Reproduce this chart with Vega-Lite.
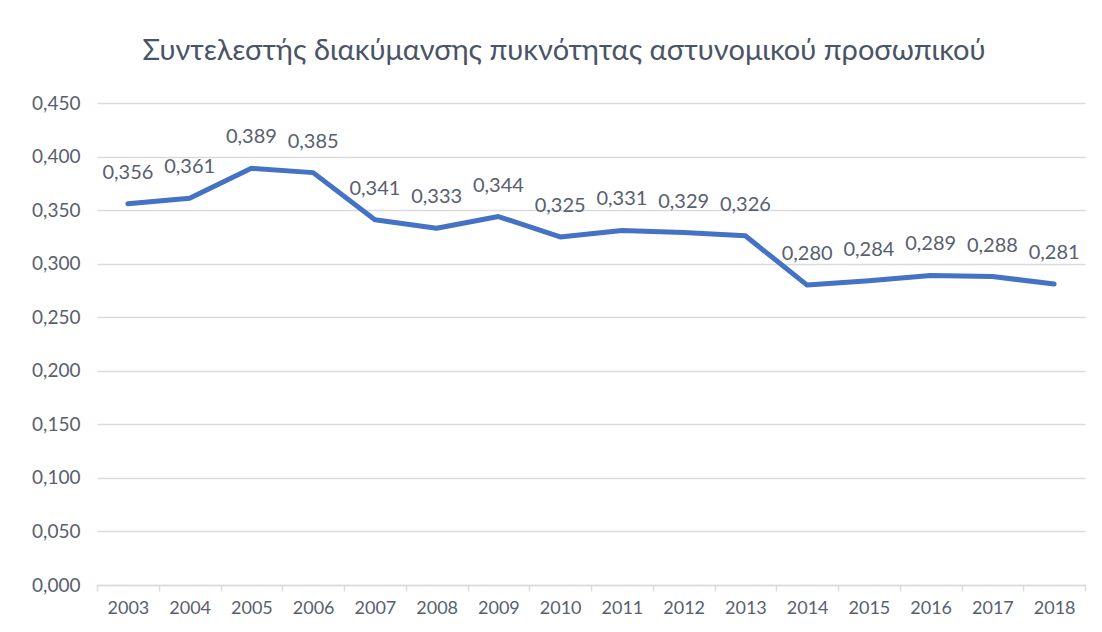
{
  "$schema": "https://vega.github.io/schema/vega-lite/v6.json",
  "width": 988,
  "height": 482,
  "autosize": {"type": "none"},
  "padding": {"left": 97, "top": 103, "right": 17, "bottom": 47},
  "background": "white",
  "title": {
    "text": "Συντελεστής διακύμανσης πυκνότητας αστυνομικού προσωπικού",
    "font": "Lato",
    "fontSize": 29,
    "fontWeight": "normal",
    "color": "#4a5466",
    "anchor": "middle",
    "frame": "group",
    "dx": -27,
    "offset": 28
  },
  "data": {
    "values": [
      {"year": "2003", "value": 0.356},
      {"year": "2004", "value": 0.361},
      {"year": "2005", "value": 0.389},
      {"year": "2006", "value": 0.385},
      {"year": "2007", "value": 0.341},
      {"year": "2008", "value": 0.333},
      {"year": "2009", "value": 0.344},
      {"year": "2010", "value": 0.325},
      {"year": "2011", "value": 0.331},
      {"year": "2012", "value": 0.329},
      {"year": "2013", "value": 0.326},
      {"year": "2014", "value": 0.280},
      {"year": "2015", "value": 0.284},
      {"year": "2016", "value": 0.289},
      {"year": "2017", "value": 0.288},
      {"year": "2018", "value": 0.281}
    ]
  },
  "encoding": {
    "x": {
      "field": "year",
      "type": "ordinal",
      "bandPosition": 0.5,
      "scale": {"type": "band", "paddingInner": 0, "paddingOuter": 0},
      "axis": {
        "title": null,
        "labelAngle": 0,
        "labelFont": "Lato",
        "labelFontSize": 18,
        "labelColor": "#58606e",
        "labelPadding": 8,
        "domainColor": "#d9dbe0",
        "domainWidth": 1.5,
        "tickColor": "#d9dbe0",
        "tickWidth": 1.5,
        "tickSize": 6,
        "tickBand": "extent",
        "grid": false
      }
    },
    "y": {
      "field": "value",
      "type": "quantitative",
      "scale": {"domain": [0, 0.45], "nice": false},
      "axis": {
        "title": null,
        "values": [0, 0.05, 0.1, 0.15, 0.2, 0.25, 0.3, 0.35, 0.4, 0.45],
        "format": ".3f",
        "labelFont": "Lato",
        "labelFontSize": 19,
        "labelColor": "#58606e",
        "labelPadding": 17,
        "domain": false,
        "ticks": false,
        "grid": true,
        "gridColor": "#d9dbe0",
        "gridWidth": 1.5
      }
    }
  },
  "layer": [
    {
      "mark": {"type": "line", "color": "#4472C4", "strokeWidth": 5, "strokeJoin": "round", "strokeCap": "round"}
    },
    {
      "mark": {"type": "text", "font": "Lato", "fontSize": 20, "color": "#58606e", "baseline": "middle", "dy": -31},
      "encoding": {
        "text": {"field": "value", "type": "quantitative", "format": ".3f"}
      }
    }
  ],
  "config": {
    "view": {"stroke": null},
    "locale": {"number": {"decimal": ",", "thousands": ".", "grouping": [3], "currency": ["", " €"]}}
  }
}
